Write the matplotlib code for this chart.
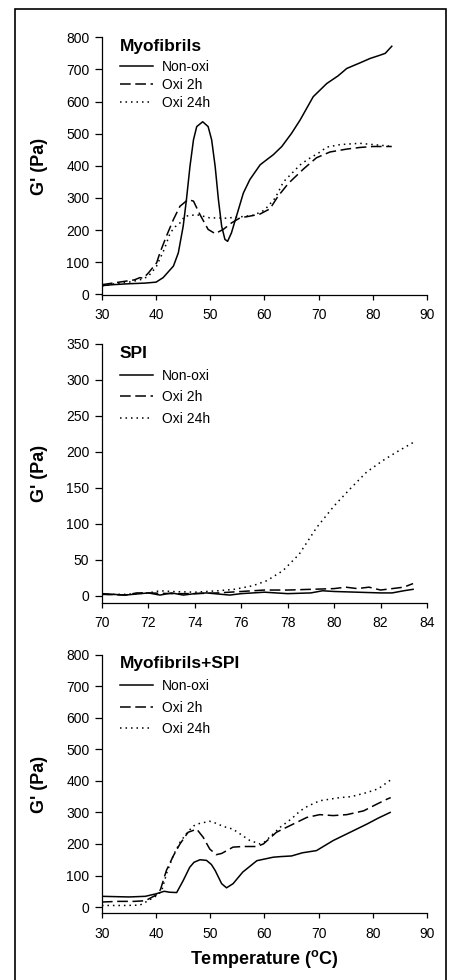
import matplotlib
matplotlib.use("Agg")
import matplotlib.pyplot as plt
from matplotlib.patches import Rectangle

plt.rcParams['font.family'] = ['Liberation Sans', 'DejaVu Sans']
plt.rcParams['mathtext.fontset'] = 'custom'
plt.rcParams['mathtext.rm'] = 'Liberation Sans'
plt.rcParams['mathtext.bf'] = 'Liberation Sans:bold'

labels = ["Non-oxi", "Oxi 2h", "Oxi 24h"]

# Myofibrils
myo_non_t = [30, 32, 35, 38, 40, 41.3, 43.2, 44.1, 45.0, 45.6, 46.25, 46.9, 47.5, 48.6, 49.6,
             50.25, 50.9, 51.5, 52.1, 52.7, 53.2, 53.9, 55.2, 56.1, 57.3, 59.2, 60.5, 61.6, 63.2,
             65, 66.6, 69, 71.5, 73.6, 75.2, 77.6, 79.5, 81.3, 82.3, 83.5]
myo_non_g = [27, 30, 33, 35, 38, 52, 88, 129, 212, 295, 398, 481, 522, 537, 522,
             481, 398, 295, 212, 171, 165, 191, 264, 315, 357, 403, 420, 434, 460,
             501, 543, 615, 656, 680, 703, 720, 734, 744, 750, 772]
myo_2h_t = [30, 32, 34, 36, 37, 37.6, 38.5, 40.1, 40.7, 41.9, 43.2, 44.4, 45.9, 46.9, 48.1,
            49.6, 50.9, 52.4, 53.9, 55.5, 57.2, 59.2, 61, 62.5, 64.4, 67.2, 69.6, 72.1,
            75.2, 77.6, 80, 82, 83.5]
myo_2h_g = [30, 35, 40, 45, 52, 50, 65, 98, 129, 181, 233, 274, 295, 290, 248,
            202, 189, 202, 222, 238, 243, 250, 266, 305, 345, 390, 425, 443,
            452, 457, 460, 460, 460]
myo_24h_t = [30, 32, 35, 37, 38.5, 40, 41.5, 42.6, 43.5, 44.4, 45.3, 47.5, 49.9, 52.9, 56, 58,
             60, 62, 63.5, 66.6, 68, 70, 71.5, 74, 77.6, 80, 82.6, 83.5]
myo_24h_g = [25, 32, 38, 45, 55, 85, 140, 191, 210, 222, 243, 248, 238, 237, 242, 246,
             262, 300, 350, 403, 420, 440, 458, 466, 470, 466, 462, 460]

# SPI
spi_non_t = [70, 71, 72, 72.5, 73, 73.5, 74, 74.5, 75.5, 76, 77, 78, 79, 79.5, 80, 81, 82, 82.5, 83, 83.4]
spi_non_g = [3, 1, 4, 1, 4, 1, 3, 4, 1, 3, 5, 3, 4, 7, 6, 5, 4, 4, 7, 9]
spi_2h_t = [70, 71, 71.5, 72, 73, 74, 75, 76, 77, 78, 79, 80, 80.5, 81, 81.5, 82, 82.5, 83, 83.4]
spi_2h_g = [2, 1, 4, 4, 3, 3, 4, 6, 8, 8, 9, 10, 12, 10, 12, 8, 10, 12, 17]
spi_24h_t = [70, 71, 72, 72.5, 73, 74, 75, 75.7, 76.5, 77.1, 77.8, 78.5, 79.25, 80, 80.7, 81.4,
             82.1, 82.7, 83.4]
spi_24h_g = [2, 2, 4, 7, 6, 5, 7, 9, 14, 21, 35, 58, 95, 125, 149, 172, 188, 200, 213]

# Myofibrils+SPI
mix_non_t = [30, 35, 38, 40, 41.5, 42.5, 43.8, 45, 46.2, 47, 48.1, 49.3, 50.2, 50.9, 52.1, 53.0,
             54.2, 56, 58.6, 61.6, 63, 65, 67, 69.6, 72.7, 76.4, 78.9, 81, 83.2]
mix_non_g = [34, 32, 34, 42, 50, 47, 46, 84, 126, 142, 150, 148, 135, 116, 74, 61,
             74, 111, 147, 158, 160, 162, 172, 179, 211, 242, 263, 282, 300]
mix_2h_t = [30, 33, 36, 38, 40, 40.8, 41.9, 43.2, 44.4, 45.9, 47.5, 48.7, 49.9, 51.1, 52.1, 54.2,
            56, 58.6, 59.8, 62.2, 64.1, 67.8, 70.2, 72.7, 75.2, 78.3, 80.7, 82.6, 83.3]
mix_2h_g = [16, 18, 18, 20, 38, 55, 116, 163, 200, 237, 247, 221, 184, 166, 170, 190,
            192, 192, 200, 237, 253, 284, 293, 290, 293, 305, 326, 342, 347]
mix_24h_t = [30, 34, 37, 38, 40, 41, 42, 43.2, 44.4, 45.9, 47, 48, 49.9, 51, 52.5, 54.2, 56,
             57.3, 59.2, 60, 62.9, 65, 66.6, 68, 70.2, 73.9, 76, 78.9, 81, 83.2]
mix_24h_g = [5, 5, 6, 15, 35, 50, 110, 165, 205, 240, 258, 265, 272, 266, 255, 247, 226,
             211, 200, 206, 253, 280, 305, 320, 337, 347, 350, 363, 375, 402]

styles = ['-', (0, (7, 3)), (0, (1, 2.6))]

fig = plt.figure(figsize=(4.49, 9.8), dpi=100)
fig.patches.append(Rectangle((0.0334, -0.05), 0.96, 1.0405, transform=fig.transFigure,
                             fill=False, edgecolor='black', linewidth=1.2))

panels = [
    dict(pos=[0.227, 0.699, 0.724, 0.263], title="Myofibrils",
         data=[(myo_non_t, myo_non_g), (myo_2h_t, myo_2h_g), (myo_24h_t, myo_24h_g)],
         xlim=(30, 90), xticks=range(30, 91, 10), ylim=(-2, 800), yticks=range(0, 801, 100),
         leg_top=0.911, spacing=0.27),
    dict(pos=[0.227, 0.3847, 0.724, 0.2643], title="SPI",
         data=[(spi_non_t, spi_non_g), (spi_2h_t, spi_2h_g), (spi_24h_t, spi_24h_g)],
         xlim=(70, 84), xticks=range(70, 85, 2), ylim=(-10, 350), yticks=range(0, 351, 50),
         leg_top=0.905, spacing=0.55),
    dict(pos=[0.227, 0.068, 0.724, 0.2639], title="Myofibrils+SPI",
         data=[(mix_non_t, mix_non_g), (mix_2h_t, mix_2h_g), (mix_24h_t, mix_24h_g)],
         xlim=(30, 90), xticks=range(30, 91, 10), ylim=(-20, 800), yticks=range(0, 801, 100),
         leg_top=0.905, spacing=0.52),
]

for i, p in enumerate(panels):
    ax = fig.add_axes(p['pos'])
    for (t, g), ls, lab in zip(p['data'], styles, labels):
        ax.plot(t, g, color='black', linestyle=ls, linewidth=1.1, label=lab)
    ax.set_xlim(p['xlim'])
    ax.set_ylim(p['ylim'])
    ax.set_xticks(list(p['xticks']))
    ax.set_yticks(list(p['yticks']))
    for s in ['top', 'right']:
        ax.spines[s].set_visible(False)
    for s in ['left', 'bottom']:
        ax.spines[s].set_linewidth(0.9)
    ax.tick_params(axis='x', direction='out', length=3.6, width=0.9, pad=6, labelsize=10)
    ax.tick_params(axis='y', direction='out', length=5, width=0.9, pad=4, labelsize=10)
    ax.set_ylabel("G' (Pa)", fontsize=13, fontweight='bold')
    ax.yaxis.set_label_coords(-0.166, 0.5)
    ax.text(0.055, 0.965, p['title'], transform=ax.transAxes, fontsize=12.5,
            fontweight='bold', ha='left', va='center')
    ax.legend(loc='upper left', bbox_to_anchor=(0.055, p['leg_top']), frameon=False,
              fontsize=10, handlelength=2.4, handletextpad=0.65, labelspacing=p['spacing'],
              borderpad=0, borderaxespad=0)
    if i == 2:
        ax.set_xlabel(r"Temperature ($\mathbf{^{o}}$C)", fontsize=13, fontweight='bold',
                      labelpad=5)

fig.savefig("out.png", dpi=100)
